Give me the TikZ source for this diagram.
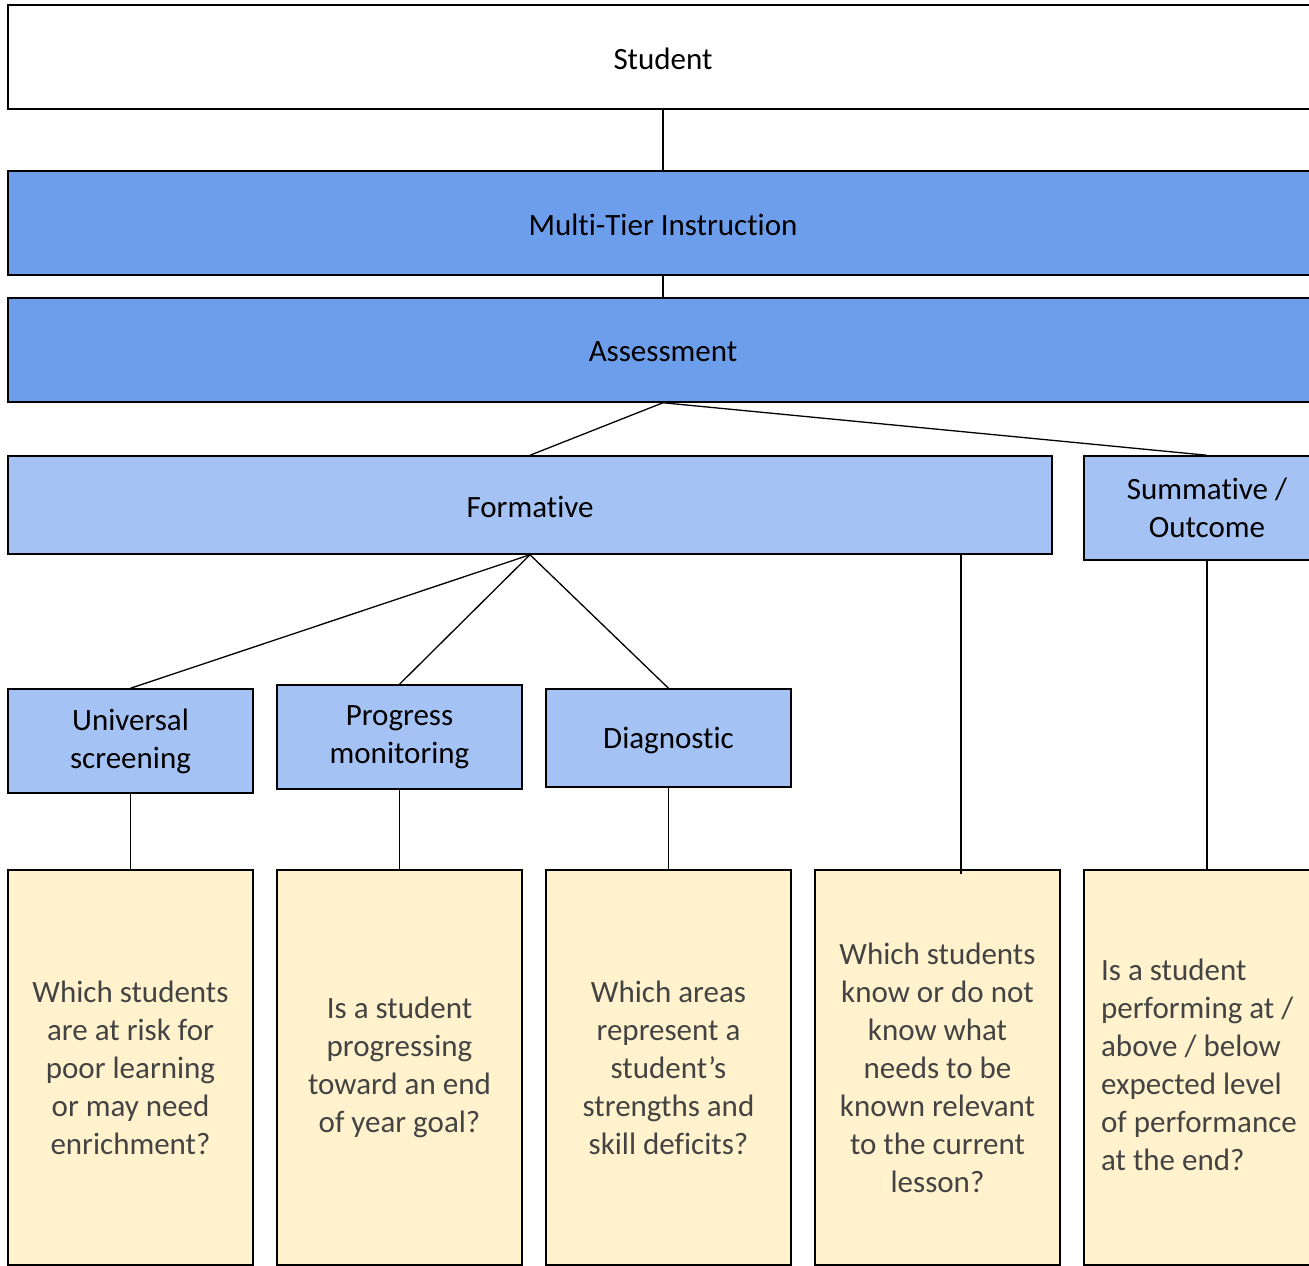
\documentclass[tikz,border=0pt]{standalone}
\usepackage{fontspec}
\setmainfont{Carlito}[Ligatures={NoCommon}]
\definecolor{dblue}{HTML}{6D9EEB}
\definecolor{lblue}{HTML}{A4C2F4}
\definecolor{lyellow}{HTML}{FFF2CC}
\definecolor{qtext}{HTML}{434343}
\newcommand{\lowtxt}[1]{\raisebox{0pt}[\dimexpr\height+4pt\relax]{#1}}
\begin{document}
\begin{tikzpicture}[x=1pt,y=-1pt,
  box/.style={draw=black, line width=1.5pt, rectangle, inner sep=0pt, align=center,
    font=\fontsize{31}{38}\selectfont},
  wide/.style={box, minimum width=1310pt, minimum height=104pt},
  mid/.style={box, fill=lblue, minimum width=245pt},
  qbox/.style={box, fill=lyellow, text=qtext, minimum width=245pt, minimum height=395pt},
  link/.style={draw=black, line width=1.3pt}]
\useasboundingbox (0,0) rectangle (1309,1266);
\clip (0,0) rectangle (1309,1266);
\node[wide, fill=white] (stu) at (663,57) {\lowtxt{Student}};
\node[wide, fill=dblue] (mti) at (663,223) {\lowtxt{Mult{}i-Tier Instruct{}ion}};
\node[wide, fill=dblue] (ass) at (663,350) {\lowtxt{Assessment}};
\node[box, fill=lblue, minimum width=1044pt, minimum height=98pt] (form) at (530,505) {\lowtxt{Format{}ive}};
\node[mid, minimum width=246pt, minimum height=104pt] (summ) at (1207,508) {Summat{}ive /\\Outcome};
\node[mid, minimum height=104pt] (univ) at (130.5,741) {Universal\\screening};
\node[mid, minimum height=104pt] (prog) at (399.5,737) {Progress\\monitoring};
\node[mid, minimum height=98pt] (diag) at (668.5,738) {\lowtxt{Diagnost{}ic}};
\node[qbox] (q1) at (130.5,1067.5) {Which students\\are at risk for\\poor learning\\or may need\\enrichment?};
\node[qbox] (q2) at (399.5,1067.5) {Is a student\\progressing\\toward an end\\of year goal?};
\node[qbox] (q3) at (668.5,1067.5) {Which areas\\represent a\\student’s\\strengths and\\skill deficits?};
\node[qbox] (q4) at (937.5,1067.5) {Which students\\know or do not\\know what\\needs to be\\known relevant\\to the current\\lesson?};
\node[qbox, minimum width=246pt, align=left] (q5) at (1207,1067.5) {\hspace*{-2pt}\begin{tabular}{@{}l@{}}Is a student\\performing at /\\above / below\\expected level\\of performance\\at the end?\end{tabular}\hspace*{14pt}};
\coordinate (q4top) at (961,874);
\draw[link] (stu.south) -- (mti.north);
\draw[link] (mti.south) -- (ass.north);
\draw[link] (ass.south) -- (form.north);
\draw[link] (ass.south) -- (summ.north);
\draw[link] (form.south) -- (univ.north);
\draw[link] (form.south) -- (prog.north);
\draw[link] (form.south) -- (diag.north);
\draw[link] (form.south -| q4top) -- (q4top);
\draw[link] (summ.south) -- (q5.north);
\draw[link] (univ.south) -- (q1.north);
\draw[link] (prog.south) -- (q2.north);
\draw[link] (diag.south) -- (q3.north);
\end{tikzpicture}
\end{document}
